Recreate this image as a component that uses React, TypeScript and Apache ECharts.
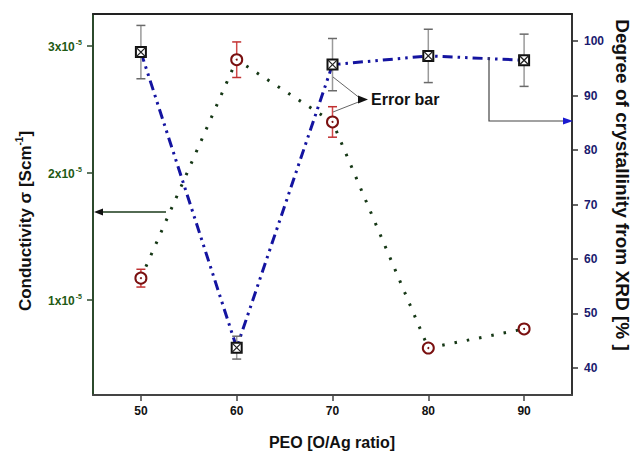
import React, { useEffect, useRef } from "react";
import * as echarts from "echarts";

// PEO : Ag ratio (O/Ag)
const peoRatio = [50, 60, 70, 80, 90];
// Ionic conductivity, S cm^-1, with error
const conductivity = [1.17e-5, 2.89e-5, 2.4e-5, 0.62e-5, 0.77e-5];
const conductivityErr = [0.07e-5, 0.14e-5, 0.12e-5, 0, 0];
// Degree of crystallinity from XRD, %, with error
const crystallinity = [98.0, 43.7, 95.7, 97.3, 96.5];
const crystallinityErr = [4.9, 2.1, 4.8, 4.9, 4.8];

const xTicks = [50, 60, 70, 80, 90];
const conductivityTicks = [1e-5, 2e-5, 3e-5];
const crystallinityTicks = [40, 50, 60, 70, 80, 90, 100];

const FONT = 'Arial, "Liberation Sans", Helvetica, sans-serif';

type Marker = "circle" | "crossSquare";

function errorMarkerItem(barColor: string, capColor: string, marker: Marker) {
  return (_params: any, api: any) => {
    const x = api.value(0);
    const y = api.value(1);
    const e = api.value(2);
    const c = api.coord([x, y]);
    const children: any[] = [];
    if (e > 0) {
      const top = api.coord([x, y + e]);
      const bot = api.coord([x, y - e]);
      const half = 4.5;
      children.push(
        { type: "line", shape: { x1: top[0], y1: top[1], x2: bot[0], y2: bot[1] }, style: { stroke: barColor, lineWidth: 1.5 } },
        { type: "line", shape: { x1: top[0] - half, y1: top[1], x2: top[0] + half, y2: top[1] }, style: { stroke: capColor, lineWidth: 1.5 } },
        { type: "line", shape: { x1: bot[0] - half, y1: bot[1], x2: bot[0] + half, y2: bot[1] }, style: { stroke: capColor, lineWidth: 1.5 } }
      );
    }
    if (marker === "circle") {
      children.push(
        { type: "circle", shape: { cx: c[0], cy: c[1], r: 5.5 }, style: { fill: "#fff", stroke: "#7a1010", lineWidth: 2 } },
        { type: "circle", shape: { cx: c[0], cy: c[1], r: 1 }, style: { fill: "#7a1010" } }
      );
    } else {
      const s = 5;
      children.push(
        { type: "rect", shape: { x: c[0] - s, y: c[1] - s, width: 2 * s, height: 2 * s }, style: { fill: "#fff", stroke: "#111", lineWidth: 2 } },
        { type: "line", shape: { x1: c[0] - s, y1: c[1] - s, x2: c[0] + s, y2: c[1] + s }, style: { stroke: "#222", lineWidth: 1.3 } },
        { type: "line", shape: { x1: c[0] + s, y1: c[1] - s, x2: c[0] - s, y2: c[1] + s }, style: { stroke: "#222", lineWidth: 1.3 } }
      );
    }
    return { type: "group", children };
  };
}

export default function App() {
  const ref = useRef<HTMLDivElement>(null);

  useEffect(() => {
    if (!ref.current) return;
    const chart = echarts.init(ref.current, null, { renderer: "svg" });

    const condPairs = peoRatio.map((x, i) => [x, conductivity[i]]);
    const crysPairs = peoRatio.map((x, i) => [x, crystallinity[i]]);
    const condErrData = peoRatio.map((x, i) => [x, conductivity[i], conductivityErr[i]]);
    const crysErrData = peoRatio.map((x, i) => [x, crystallinity[i], crystallinityErr[i]]);

    const supRich = (color: string) => ({
      b: { fontFamily: FONT, fontWeight: "bold", fontSize: 12, color, lineHeight: 14, verticalAlign: "bottom" },
      s: { fontFamily: FONT, fontWeight: "bold", fontSize: 7, color, lineHeight: 14, verticalAlign: "top", padding: [0, 0, 0, 1] },
    });

    chart.setOption({
      animation: false,
      backgroundColor: "#ffffff",
      grid: { left: 93, right: 62, top: 14, bottom: 56, show: false },
      xAxis: [
        {
          type: "value",
          min: 45,
          max: 95,
          position: "bottom",
          axisLine: { show: true, onZero: false, lineStyle: { color: "#444", width: 2 } },
          axisTick: { show: true, customValues: xTicks, length: 6, lineStyle: { color: "#444", width: 1.5 } },
          axisLabel: {
            customValues: xTicks,
            margin: 10,
            fontFamily: FONT,
            fontWeight: "bold",
            fontSize: 12,
            color: "#111",
          },
          splitLine: { show: false },
        },
        {
          type: "value",
          min: 45,
          max: 95,
          position: "top",
          axisLine: { show: true, onZero: false, lineStyle: { color: "#222", width: 2 } },
          axisTick: { show: false },
          axisLabel: { show: false },
          splitLine: { show: false },
        },
      ],
      yAxis: [
        {
          type: "value",
          min: 0.25e-5,
          max: 3.25e-5,
          position: "left",
          axisLine: { show: true, onZero: false, lineStyle: { color: "#2c4a2c", width: 2 } },
          axisTick: { show: true, customValues: conductivityTicks, length: 6, lineStyle: { color: "#2c4a2c", width: 1.5 } },
          axisLabel: {
            customValues: conductivityTicks,
            margin: 11,
            formatter: (v: number) => `{b|${Math.round(v / 1e-5)}x10}{s|-5}`,
            rich: supRich("#1f5a14"),
          },
          splitLine: { show: false },
        },
        {
          type: "value",
          min: 35,
          max: 105,
          position: "right",
          axisLine: { show: true, onZero: false, lineStyle: { color: "#333", width: 2 } },
          axisTick: { show: true, customValues: crystallinityTicks, length: 6, lineStyle: { color: "#333", width: 1.5 } },
          axisLabel: {
            customValues: crystallinityTicks,
            margin: 12,
            fontFamily: FONT,
            fontWeight: "bold",
            fontSize: 12,
            color: "#1a1a6e",
          },
          splitLine: { show: false },
        },
      ],
      series: [
        {
          name: "Conductivity",
          type: "line",
          xAxisIndex: 0,
          yAxisIndex: 0,
          data: condPairs,
          symbol: "none",
          lineStyle: { color: "#163816", width: 3, type: [2.5, 10] },
          z: 2,
        },
        {
          name: "Crystallinity",
          type: "line",
          xAxisIndex: 0,
          yAxisIndex: 1,
          data: crysPairs,
          symbol: "none",
          lineStyle: { color: "#1414a0", width: 3, type: [10, 5, 2.5, 5, 2.5, 5] },
          z: 2,
        },
        {
          name: "Conductivity error",
          type: "custom",
          xAxisIndex: 0,
          yAxisIndex: 0,
          data: condErrData,
          renderItem: errorMarkerItem("#d04848", "#c03030", "circle"),
          z: 3,
        },
        {
          name: "Crystallinity error",
          type: "custom",
          xAxisIndex: 0,
          yAxisIndex: 1,
          data: crysErrData,
          renderItem: errorMarkerItem("#9a9a9a", "#6a6a6a", "crossSquare"),
          z: 3,
        },
      ],
      graphic: [
        // arrow pointing to the conductivity axis
        { type: "line", shape: { x1: 166, y1: 212, x2: 100, y2: 212 }, style: { stroke: "#1a3a1a", lineWidth: 1.5 }, z: 10 },
        { type: "polygon", shape: { points: [[94, 212], [103, 208.5], [103, 215.5]] }, style: { fill: "#111" }, z: 10 },
        // arrow pointing to the crystallinity axis
        { type: "polyline", shape: { points: [[489, 57], [489, 121], [565, 121]] }, style: { stroke: "#444", lineWidth: 1.2, fill: "none" }, z: 10 },
        { type: "polygon", shape: { points: [[573, 121], [563, 117.5], [563, 124.5]] }, style: { fill: "#1a1ad0" }, z: 10 },
        // error bar callout
        { type: "line", shape: { x1: 333, y1: 77, x2: 361, y2: 99 }, style: { stroke: "#666", lineWidth: 1 }, z: 10 },
        { type: "line", shape: { x1: 333, y1: 112, x2: 361, y2: 101 }, style: { stroke: "#666", lineWidth: 1 }, z: 10 },
        { type: "polygon", shape: { points: [[368, 99.5], [358, 95.5], [358, 103.5]] }, style: { fill: "#111" }, z: 10 },
        {
          type: "text",
          x: 371,
          y: 99,
          style: { text: "Error bar", font: `bold 16px ${FONT}`, fill: "#111", align: "left", verticalAlign: "middle" },
          z: 10,
        },
        // axis titles
        {
          type: "text",
          x: 332,
          y: 442,
          style: { text: "PEO [O/Ag ratio]", font: `bold 16px ${FONT}`, fill: "#111", align: "center", verticalAlign: "middle" },
        },
        {
          type: "text",
          x: 24,
          y: 221,
          rotation: Math.PI / 2,
          style: {
            text: "{t|Conductivity σ [Scm}{s|-1}{t|]}",
            align: "center",
            verticalAlign: "middle",
            rich: {
              t: { fontFamily: FONT, fontWeight: "bold", fontSize: 17, fill: "#111", lineHeight: 20, verticalAlign: "bottom" },
              s: { fontFamily: FONT, fontWeight: "bold", fontSize: 10, fill: "#111", lineHeight: 20, verticalAlign: "top" },
            },
          },
        },
        {
          type: "text",
          x: 622,
          y: 185,
          rotation: -Math.PI / 2,
          style: {
            text: "Degree of crystallinity from XRD [% ]",
            font: `bold 19px ${FONT}`,
            fill: "#111",
            align: "center",
            verticalAlign: "middle",
          },
        },
      ],
    });

    return () => chart.dispose();
  }, []);

  return (
    <div
      ref={ref}
      style={{ position: "fixed", left: 0, top: 0, width: 634, height: 451, background: "#fff" }}
    />
  );
}
